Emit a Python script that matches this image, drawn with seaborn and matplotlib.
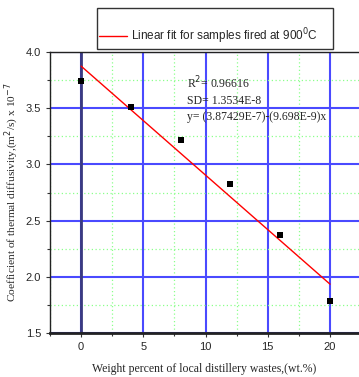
import matplotlib
matplotlib.use("Agg")
import matplotlib.pyplot as plt
import seaborn as sns
import numpy as np
import pandas as pd
from matplotlib.patches import Rectangle
from matplotlib.lines import Line2D
from matplotlib.ticker import MultipleLocator

# Data
wt_percent = [0, 4, 8, 12, 16, 20]
diffusivity = [3.74, 3.51, 3.22, 2.83, 2.37, 1.785]
fit_x = [0, 20]
fit_intercept = 3.87429
fit_slope = -0.09698
x_ticks = [0, 5, 10, 15, 20]
y_ticks = [1.5, 2.0, 2.5, 3.0, 3.5, 4.0]

sns.set_style("white")
serif = ["Liberation Serif", "DejaVu Serif"]
sans = ["Liberation Sans", "DejaVu Sans"]

fig = plt.figure(figsize=(3.59, 3.77), dpi=100)
ax = fig.add_axes([50/359, 44/377, 309/359, 281/377])

df = pd.DataFrame({"x": wt_percent, "y": diffusivity})
fit_df = pd.DataFrame({"x": fit_x, "y": [fit_intercept + fit_slope * v for v in fit_x]})

ax.set_xlim(-2.5, 22.33)
ax.set_ylim(1.5, 4.0)
ax.xaxis.set_major_locator(MultipleLocator(5))
ax.xaxis.set_minor_locator(MultipleLocator(2.5))
ax.yaxis.set_major_locator(MultipleLocator(0.5))
ax.yaxis.set_minor_locator(MultipleLocator(0.25))

ax.grid(which="minor", color="#8cff8c", linestyle=(0, (1, 2)), linewidth=0.9, zorder=0)
ax.grid(which="major", color="#4a4aff", linestyle="-", linewidth=1.5, zorder=0.5)
ax.axvline(0, color="#3a3a80", linewidth=2.0, zorder=1)

sns.lineplot(data=fit_df, x="x", y="y", ax=ax, color="red", linewidth=1.0, zorder=3)
sns.scatterplot(data=df, x="x", y="y", ax=ax, marker="s", color="black", s=22,
                edgecolor="black", linewidth=0, zorder=4)

ax.set_xticks(x_ticks)
ax.set_yticks(y_ticks)
ax.set_xticklabels([str(v) for v in x_ticks], fontfamily=sans, fontsize=8)
ax.set_yticklabels([f"{v:.1f}" for v in y_ticks], fontfamily=sans, fontsize=8)
ax.tick_params(which="both", direction="out", bottom=True, left=True, length=3, width=0.8, color="#333333")
ax.tick_params(which="minor", length=2)

for s in ["left", "top"]:
    ax.spines[s].set_color("#222222")
    ax.spines[s].set_linewidth(1.0)
ax.spines["bottom"].set_color("#222222")
ax.spines["bottom"].set_linewidth(2.0)
ax.spines["right"].set_visible(False)

ax.set_xlabel("Weight percent of local distillery wastes,(wt.%)", fontfamily=serif, fontsize=8.5, labelpad=8)
ax.set_ylabel("Coefficient of thermal diffusivity,(m$^2$/s) x 10$^{-7}$", fontfamily=serif, fontsize=8.2, labelpad=3)

ax.text(8.5, 3.80, "R$^2$= 0.96616\nSD= 1.3534E-8\ny= (3.87429E-7)-(9.698E-9)x",
        fontfamily=serif, fontsize=8.5, va="top", ha="left", linespacing=1.45, zorder=5)

# legend box
fig.patches.append(Rectangle((97/359, 1 - 49/377), 236/359, 41/377, transform=fig.transFigure,
                             facecolor="white", edgecolor="#333333", linewidth=1.0))
fig.lines.append(Line2D([99/359, 127/359], [1 - 36/377, 1 - 36/377], transform=fig.transFigure,
                        color="red", linewidth=1.0))
fig.text(131/359, 1 - 36/377, "Linear fit for samples fired at 900$^0$C", fontfamily=sans,
         fontsize=8.5, va="center", ha="left")

fig.savefig("out.png", dpi=100)
